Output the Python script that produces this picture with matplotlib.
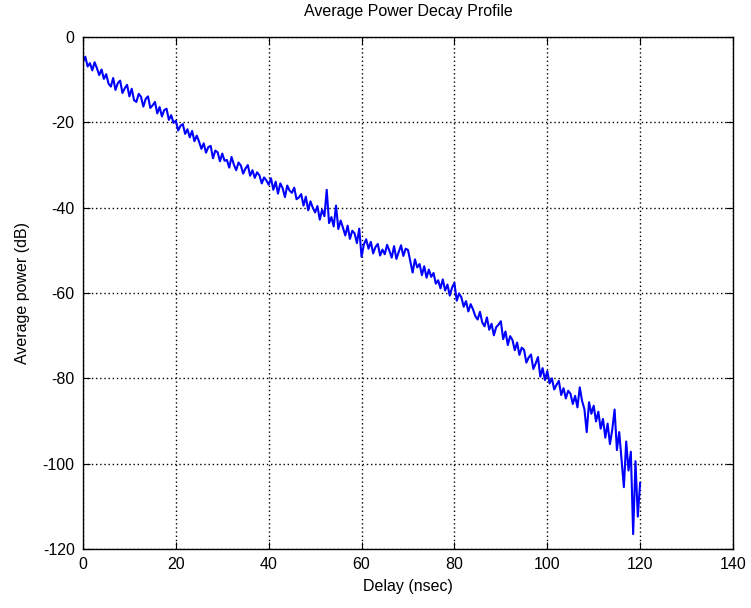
import numpy as np
import matplotlib.pyplot as plt

plt.rcParams['font.family'] = ['Liberation Sans', 'DejaVu Sans']
plt.rcParams['axes.unicode_minus'] = False

# === Data (0.5 ns spacing) ===
delay_ns = np.arange(0, 120.5, 0.5)

power_db = [
    -5.8, -4.6, -6.9, -6.1, -7.8, -5.9, -7.3, -8.9, -7.6, -9.8,
    -8.7, -10.9, -11.6, -9.6, -12.4, -10.8, -10.2, -13.1, -12.0, -11.2,
    -13.9, -12.1, -14.8, -15.2, -13.3, -14.0, -16.3, -14.5, -13.9, -16.6,
    -16.0, -15.2, -17.9, -16.4, -18.6, -17.1, -16.8, -19.4, -18.3, -20.1,
    -19.6, -21.9, -20.8, -20.4, -22.7, -21.6, -23.5, -22.0, -24.4, -23.1,
    -24.5, -26.2, -24.9, -27.1, -25.8, -25.5, -28.4, -26.6, -27.0, -29.1,
    -27.3, -29.0, -28.8, -30.6, -28.1, -29.9, -31.2, -29.4, -30.1, -32.0,
    -30.8, -30.0, -32.5, -31.2, -33.0, -31.7, -32.4, -34.3, -32.9, -33.6,
    -34.6, -33.1, -35.8, -33.9, -36.7, -34.3, -35.4, -37.5, -34.8, -36.0,
    -36.5, -35.3, -38.0, -37.6, -36.8, -39.5, -37.4, -40.6, -38.5, -40.0,
    -41.1, -39.6, -42.8, -40.5, -42.0, -35.8, -43.6, -42.2, -44.4, -39.5,
    -45.0, -43.0, -44.7, -46.5, -44.2, -47.3, -45.4, -46.0, -48.3, -44.9,
    -51.5, -48.6, -47.4, -49.6, -48.0, -50.7, -49.2, -48.5, -51.2, -49.8,
    -50.9, -48.7, -50.1, -51.7, -49.0, -52.0, -50.4, -48.8, -51.3, -49.6,
    -49.9, -52.5, -55.2, -52.1, -54.0, -53.2, -55.8, -53.7, -56.4, -54.5,
    -56.2, -55.3, -57.8, -57.0, -58.9, -56.8, -59.4, -58.0, -60.6, -58.7,
    -57.6, -61.8, -60.1, -61.0, -63.2, -61.9, -64.3, -62.6, -63.8, -65.4,
    -66.2, -64.4, -66.9, -67.8, -65.7, -68.6, -67.2, -69.9, -68.0, -67.4,
    -66.6, -70.8, -69.0, -72.2, -70.1, -71.0, -73.4, -71.6, -74.5, -72.8,
    -73.3, -76.3, -75.1, -74.4, -77.8, -76.5, -75.0, -79.6, -77.6, -80.4,
    -78.3, -81.2, -80.0, -82.6, -81.5, -80.6, -83.9, -82.3, -84.7, -82.9,
    -83.6, -86.0, -84.1, -86.8, -82.1, -85.3, -87.2, -92.6, -85.6, -88.3,
    -86.4, -90.1, -87.8, -91.8, -89.5, -93.9, -90.6, -95.4, -92.0, -87.3,
    -96.8, -92.6, -98.9, -105.5, -94.8, -101.6, -97.2, -116.5, -99.4, -112.4,
    -104.5,
]

x_ticks = [0, 20, 40, 60, 80, 100, 120, 140]
y_ticks = [-120, -100, -80, -60, -40, -20, 0]

# === Plot ===
fig = plt.figure(figsize=(7.51, 6.08), dpi=100)
ax = fig.add_axes([0.1105, 0.097, 0.8655, 0.842])

ax.plot(delay_ns, power_db, color='#0000ff', linewidth=1.5)

ax.set_xlim(0, 140)
ax.set_ylim(-120, 0)
ax.set_xticks(x_ticks)
ax.set_yticks(y_ticks)
ax.grid(True, color='black', linestyle=(0, (1, 2)), linewidth=1.0)
ax.tick_params(direction='in', top=True, right=True, length=5, labelsize=11.5,
               colors='black', pad=6)
for spine in ax.spines.values():
    spine.set_linewidth(1.0)

ax.set_title("Average Power Decay Profile", fontsize=11.5, pad=15)
ax.set_xlabel("Delay (nsec)", fontsize=11.5, labelpad=5)
ax.set_ylabel("Average power (dB)", fontsize=11.5, labelpad=9)

fig.savefig("out.png", dpi=100)
